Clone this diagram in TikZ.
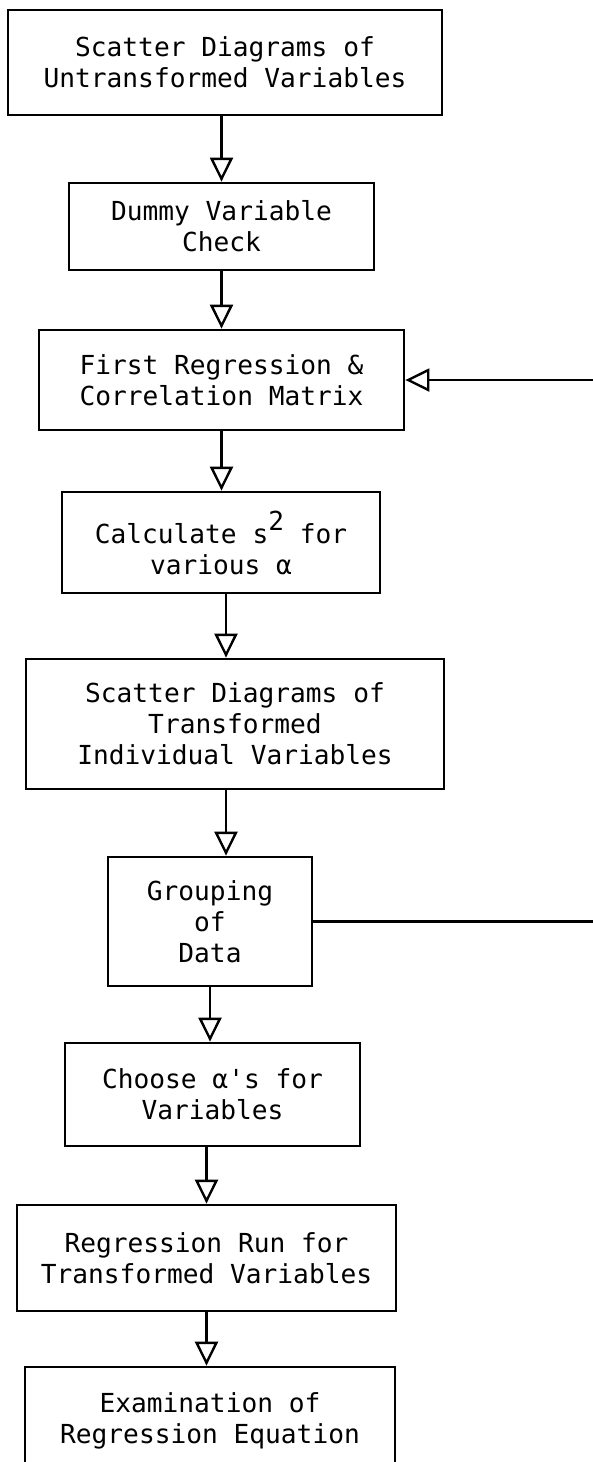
\documentclass[tikz,border=0pt]{standalone}
\usepackage{fontspec}
\setmonofont{DejaVu Sans Mono}
\usetikzlibrary{arrows.meta}

\begin{document}
\begin{tikzpicture}[
		x=0.5pt, y=-0.5pt,
		stage/.style={draw, align=center, inner sep=0pt, line width=1.4pt, font=\ttfamily\fontsize{13.1pt}{15.5pt}\selectfont},
		flow/.style={line width=1.2pt, -{Triangle[open, length=12pt, width=11.5pt]}}
	]
	\fill[white] (0,0) rectangle (593,1462);
	\useasboundingbox (0,0) rectangle (593,1462);
	\coordinate (rim) at (593,0);

	\node[stage, minimum width=217pt, minimum height=52.5pt] (scatter) at (225,62.5) {Scatter Diagrams of\\Untransformed Variables};
	\node[stage, minimum width=152.5pt, minimum height=43.5pt] (dummy) at (221.5,226.5) {Dummy Variable\\Check};
	\node[stage, minimum width=182.5pt, minimum height=50pt] (first) at (221.5,380) {First Regression \&\\Correlation Matrix};
	\node[stage, minimum width=159pt, minimum height=50.5pt] (calc) at (221,542.5) {Calculate s\raisebox{6.5pt}{2} for\\various α};
	\node[stage, minimum width=209pt, minimum height=65pt] (trans) at (235,724) {Scatter Diagrams of\\Transformed\\Individual Variables};
	\node[stage, minimum width=102pt, minimum height=64.5pt] (group) at (210,921.5) {Grouping\\of\\Data};
	\node[stage, minimum width=147.5pt, minimum height=51.5pt] (choose) at (212.5,1094.5) {Choose α's for\\Variables};
	\node[stage, minimum width=189.5pt, minimum height=53pt] (run) at (206.5,1258) {Regression Run for\\Transformed Variables};
	\node[stage, minimum width=185pt, minimum height=54pt] (exam) at (210,1421) {Examination of\\Regression Equation};

	\coordinate (col) at ([xshift=2.5pt]calc.south);

	\draw[flow] (scatter.south -| dummy.north) -- (dummy.north);
	\draw[flow] (dummy.south) -- (dummy.south |- first.north);
	\draw[flow] (first.south) -- (first.south |- calc.north);
	\draw[flow] (col) -- (col |- trans.north);
	\draw[flow] (trans.south -| col) -- (group.north -| col);
	\draw[flow] (group.south) -- (group.south |- choose.north);
	\draw[flow] (choose.south -| run.north) -- (run.north);
	\draw[flow] (run.south) -- (run.south |- exam.north);

	\draw[line width=1.2pt] (group.east) -- (group.east -| rim);
	\draw[flow] (first.east -| rim) -- (first.east);
\end{tikzpicture}
\end{document}
